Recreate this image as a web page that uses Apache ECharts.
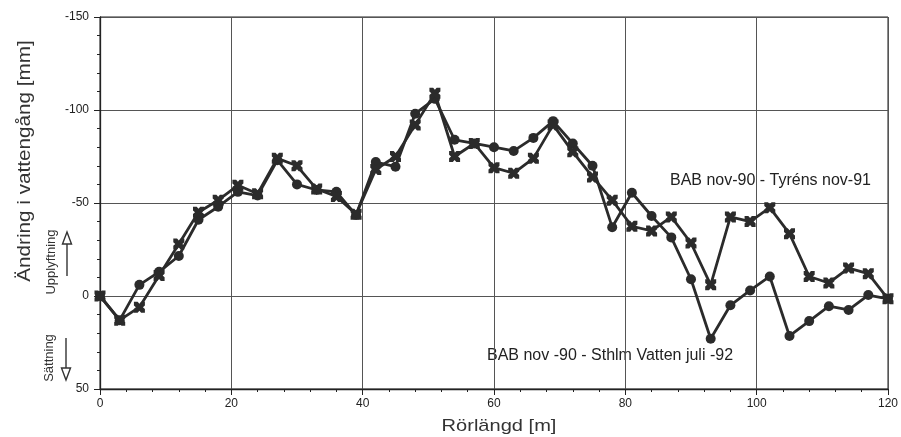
<!DOCTYPE html>
<html><head><meta charset="utf-8">
<script src="https://cdn.jsdelivr.net/npm/echarts@6/dist/echarts.min.js"></script>
<style>html,body{margin:0;padding:0;background:#fff}#c{width:901px;height:437px}</style>
</head><body><div id="c"></div>
<script>
const positions = [0,3,6,9,12,15,18,21,24,27,30,33,36,39,42,45,48,51,54,57,60,63,66,69,72,75,78,81,84,87,90,93,96,99,102,105,108,111,114,117,120];
const sthlmVatten = [0,13,-6,-13,-21.5,-41,-48,-56,-54,-73,-60,-57,-56,-43.5,-72,-69.5,-98,-106,-84,-82,-80,-78,-85,-94,-82,-70,-37,-55.5,-43,-31.5,-9,23,5,-3,-10.5,21.5,13.5,5.5,7.5,-0.5,1.5];
const tyrens = [0,13,6,-11,-28,-45,-51.5,-59.5,-55,-74,-70,-57.5,-53.5,-44,-68,-75,-92,-109,-75,-82,-69,-66,-74,-92,-77.5,-64,-51.5,-37.5,-35,-42.5,-28.5,-6,-42.5,-40,-47.5,-33.5,-10.5,-7,-15,-12,1.5];
const labelTyrens = 'BAB nov-90 - Tyréns nov-91';
const labelSthlm = 'BAB nov -90 - Sthlm Vatten juli -92';
const yTitle = 'Ändring i vattengång [mm]';
const xTitle = 'Rörlängd [m]';
const upText = 'Upplyftning';
const downText = 'Sättning';

const FONT = '"Liberation Sans", Arial, sans-serif';
const LINE = '#2b2b2b';
const crossPath = 'path://M0,0 L3.4,0 L5,1.8 L6.6,0 L10,0 L10,3.4 L8.2,5 L10,6.6 L10,10 L6.6,10 L5,8.2 L3.4,10 L0,10 L0,6.6 L1.8,5 L0,3.4 Z';

const chart = echarts.init(document.getElementById('c'), null, {renderer:'canvas'});
chart.setOption({
  animation:false,
  backgroundColor:'#fff',
  grid:{left:100, right:12, top:17, bottom:48, show:true, borderColor:'#222', borderWidth:1},
  xAxis:{type:'value', min:0, max:120, interval:20,
    axisLine:{show:true, onZero:false, lineStyle:{color:'#222', width:1.3}},
    axisTick:{show:true, length:6, lineStyle:{color:'#222'}},
    minorTick:{show:true, splitNumber:5, length:3, lineStyle:{color:'#222'}},
    axisLabel:{color:'#222', fontFamily:FONT, fontSize:12, margin:9},
    splitLine:{show:true, lineStyle:{color:'#555', width:1}}
  },
  yAxis:{type:'value', min:-150, max:50, interval:50, inverse:true,
    axisLine:{show:true, onZero:false, lineStyle:{color:'#222', width:1.3}},
    axisTick:{show:true, length:6, lineStyle:{color:'#222'}},
    minorTick:{show:true, splitNumber:5, length:3, lineStyle:{color:'#222'}},
    axisLabel:{color:'#222', fontFamily:FONT, fontSize:12, margin:11},
    splitLine:{show:true, lineStyle:{color:'#555', width:1}}
  },
  series:[
    {type:'line', name:labelSthlm, data:positions.map((x,i)=>[x,sthlmVatten[i]]),
     symbol:'circle', symbolSize:10, lineStyle:{color:LINE, width:2.8},
     itemStyle:{color:LINE}, z:3},
    {type:'line', name:labelTyrens, data:positions.map((x,i)=>[x,tyrens[i]]),
     symbol:crossPath, symbolSize:11, lineStyle:{color:LINE, width:2.8},
     itemStyle:{color:LINE}, z:4}
  ],
  graphic:[
    {type:'text', x:670, y:181, style:{text:labelTyrens, fill:'#222', font:'16px '+FONT, textVerticalAlign:'middle'}},
    {type:'text', x:487, y:356, style:{text:labelSthlm, fill:'#222', font:'16px '+FONT, textVerticalAlign:'middle'}},
    {type:'text', x:25, y:161, rotation:Math.PI/2, scaleX:1.15, style:{text:yTitle, fill:'#333', font:'18px '+FONT, textAlign:'center', textVerticalAlign:'middle'}},
    {type:'text', x:499, y:426, scaleX:1.18, style:{text:xTitle, fill:'#333', font:'17px '+FONT, textAlign:'center', textVerticalAlign:'middle'}},
    {type:'text', x:51, y:262, rotation:Math.PI/2, style:{text:upText, fill:'#333', font:'13px '+FONT, textAlign:'center', textVerticalAlign:'middle'}},
    {type:'text', x:49, y:358, rotation:Math.PI/2, style:{text:downText, fill:'#333', font:'13px '+FONT, textAlign:'center', textVerticalAlign:'middle'}},
    {type:'line', shape:{x1:67, y1:244, x2:67, y2:276}, style:{stroke:'#333', lineWidth:1.4}},
    {type:'polygon', shape:{points:[[67,232],[62.5,244],[71.5,244]]}, style:{fill:'#fff', stroke:'#333', lineWidth:1.4}},
    {type:'line', shape:{x1:66, y1:338, x2:66, y2:368}, style:{stroke:'#333', lineWidth:1.4}},
    {type:'polygon', shape:{points:[[66,380],[61.5,368],[70.5,368]]}, style:{fill:'#fff', stroke:'#333', lineWidth:1.4}}
  ]
});
</script></body></html>
